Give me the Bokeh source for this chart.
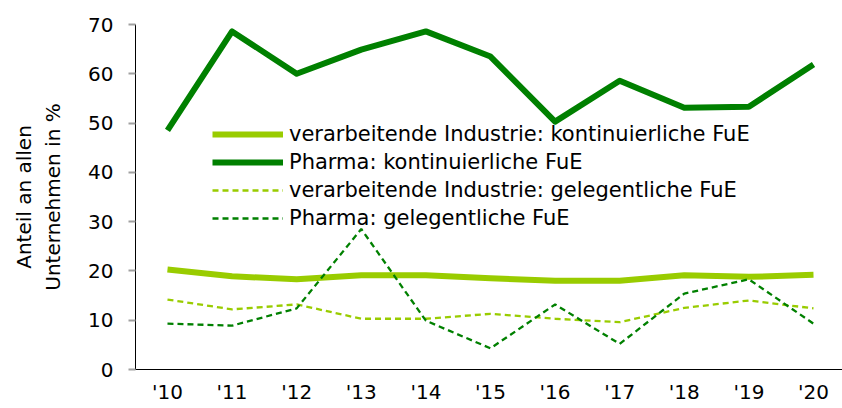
from bokeh.plotting import figure
from bokeh.models import Legend, LegendItem, FixedTicker, Range1d
from bokeh.embed import file_html
from bokeh.resources import INLINE

years = [2010, 2011, 2012, 2013, 2014, 2015, 2016, 2017, 2018, 2019, 2020]
year_labels = ["'10", "'11", "'12", "'13", "'14", "'15", "'16", "'17", "'18", "'19", "'20"]

vi_kont = [20.3, 18.9, 18.3, 19.1, 19.1, 18.5, 18.0, 18.0, 19.1, 18.8, 19.2]
ph_kont = [48.5, 68.6, 60.0, 64.9, 68.6, 63.5, 50.3, 58.6, 53.1, 53.3, 61.9]
vi_gel = [14.2, 12.2, 13.2, 10.3, 10.3, 11.3, 10.3, 9.6, 12.5, 14.0, 12.4]
ph_gel = [9.3, 8.9, 12.4, 28.5, 9.9, 4.3, 13.2, 5.2, 15.4, 18.3, 9.3]

labels = [
    "verarbeitende Industrie: kontinuierliche FuE",
    "Pharma: kontinuierliche FuE",
    "verarbeitende Industrie: gelegentliche FuE",
    "Pharma: gelegentliche FuE",
]
y_title = "Anteil an allen\nUnternehmen in %"

LIGHT = "#99cc00"
DARK = "#008000"
FONT = "DejaVu Sans"

p = figure(width=842, height=408, output_backend="svg", toolbar_location=None,
           x_range=Range1d(2009.505, 2020.449), y_range=Range1d(0, 70),
           min_border_left=135, min_border_right=0, min_border_top=24, min_border_bottom=39)
p.outline_line_color = None
p.xgrid.visible = False
p.ygrid.visible = False

r1 = p.line(years, vi_kont, line_color=LIGHT, line_width=6, line_join="round")
r2 = p.line(years, ph_kont, line_color=DARK, line_width=6, line_join="round")
r3 = p.line(years, vi_gel, line_color=LIGHT, line_width=2.3, line_dash="6 4")
r4 = p.line(years, ph_gel, line_color=DARK, line_width=2.3, line_dash="6 4")

legend = Legend(items=[LegendItem(label=labels[0], renderers=[r1]),
                       LegendItem(label=labels[1], renderers=[r2]),
                       LegendItem(label=labels[2], renderers=[r3]),
                       LegendItem(label=labels[3], renderers=[r4])],
                location=(77, 137), padding=0, spacing=0,
                glyph_width=71, glyph_height=28, label_height=28, label_standoff=6,
                label_text_font=FONT, label_text_font_size="21px", label_text_color="#000000",
                background_fill_alpha=0, border_line_color=None)
p.add_layout(legend, "center")

# x axis
p.xaxis.ticker = FixedTicker(ticks=years)
p.xaxis.major_label_overrides = {y: l for y, l in zip(years, year_labels)}
p.xaxis.major_tick_out = 0
p.xaxis.major_tick_in = 0
p.xaxis.minor_tick_line_color = None
p.xaxis.axis_line_color = "#000000"
p.xaxis.major_label_text_font = FONT
p.xaxis.major_label_text_font_size = "20px"
p.xaxis.major_label_text_color = "#000000"
p.xaxis.major_label_standoff = 10

# y axis
p.yaxis.ticker = FixedTicker(ticks=[0, 10, 20, 30, 40, 50, 60, 70])
p.yaxis.major_tick_in = 0
p.yaxis.major_tick_out = 7
p.yaxis.major_tick_line_color = "#a0a0a0"
p.yaxis.major_tick_line_width = 2
p.yaxis.minor_tick_line_color = None
p.yaxis.axis_line_color = "#000000"
p.yaxis.major_label_text_font = FONT
p.yaxis.major_label_text_font_size = "20px"
p.yaxis.major_label_text_color = "#000000"
p.yaxis.major_label_standoff = 15
p.yaxis.axis_label = y_title
p.yaxis.axis_label_text_font = FONT
p.yaxis.axis_label_text_font_size = "20px"
p.yaxis.axis_label_text_font_style = "normal"
p.yaxis.axis_label_text_color = "#000000"
p.yaxis.axis_label_standoff = 20

open("out.html", "w").write(file_html(p, INLINE))
